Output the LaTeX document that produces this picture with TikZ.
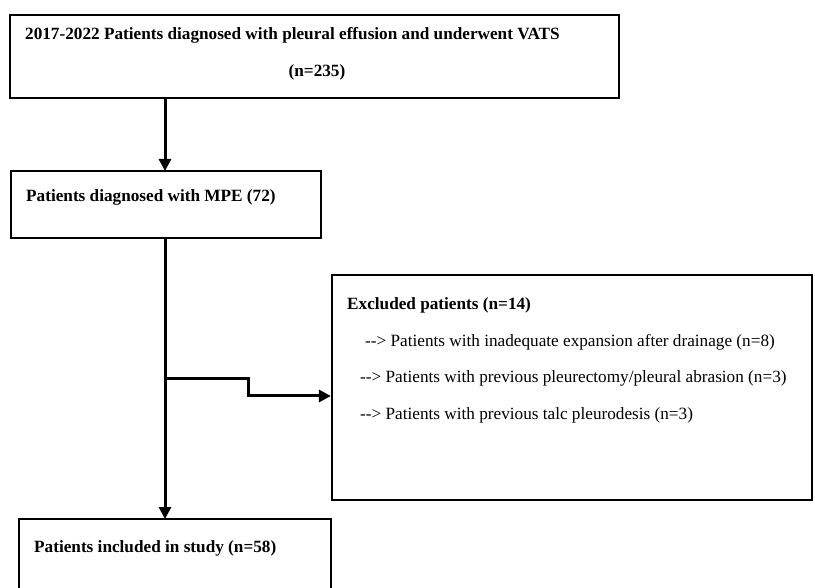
\documentclass[tikz,border=0pt]{standalone}
\usepackage{fontspec}
\setmainfont{Liberation Serif}
\usepackage{tikz}
\usetikzlibrary{positioning,arrows.meta}
\tikzset{
box/.style={draw, line width=2.2pt, rectangle, inner sep=0pt},
txt/.style={anchor=west, inner sep=0pt, font=\fontsize{17.2}{20}\selectfont},
btxt/.style={txt, font=\fontsize{17.2}{20}\selectfont\bfseries},
flow/.style={line width=3pt, -{Triangle[length=12pt,width=12pt]}}
}

\begin{document}
\begin{tikzpicture}[x=1pt,y=-1pt]
\useasboundingbox (0,0) rectangle (815,588);
\clip (0,0) rectangle (815,588);
% boxes
\node[box, minimum width=609pt, minimum height=83pt] (scr) at (314.5,56.5) {};
\node[box, minimum width=310pt, minimum height=67pt] (mpe) at (166,204.5) {};
\node[box, minimum width=480pt, minimum height=225pt] (exc) at (572,387.5) {};
\node[box, minimum width=312pt, minimum height=120pt] (inc) at (175,579) {};
% texts
\node[btxt] (scrA) at (25,35) {2017-2022 Patients diagnosed with pleural effusion and underwent VATS};
\node[btxt, anchor=center] (scrB) at (317,72) {(n=235)};
\node[btxt] (mpeA) at (26,197) {Patients diagnosed with MPE (72)};
\node[btxt] (excA) at (347,305) {Excluded patients (n=14)};
\node[txt] (excB) at (365,342) {{-}{-}> Patients with inadequate expansion after drainage (n=8)};
\node[txt] (excC) at (360,378) {{-}{-}> Patients with previous pleurectomy/pleural abrasion (n=3)};
\node[txt] (excD) at (360,415) {{-}{-}> Patients with previous talc pleurodesis (n=3)};
\node[btxt] (incA) at (34,548) {Patients included in study (n=58)};
% arrows
\coordinate (top) at (165,98);
\coordinate (mid) at (165,171);
\coordinate (bot) at (165,238);
\coordinate (end) at (165,519);
\coordinate (brA) at (165,379);
\coordinate (brB) at (248,379);
\coordinate (brC) at (248,396);
\draw[flow] (top) -- (mid);
\draw[flow] (bot) -- (end);
\draw[flow] (brA) -- (brB) -- (brC) -- (brC -| exc.west);
\end{tikzpicture}
\end{document}
